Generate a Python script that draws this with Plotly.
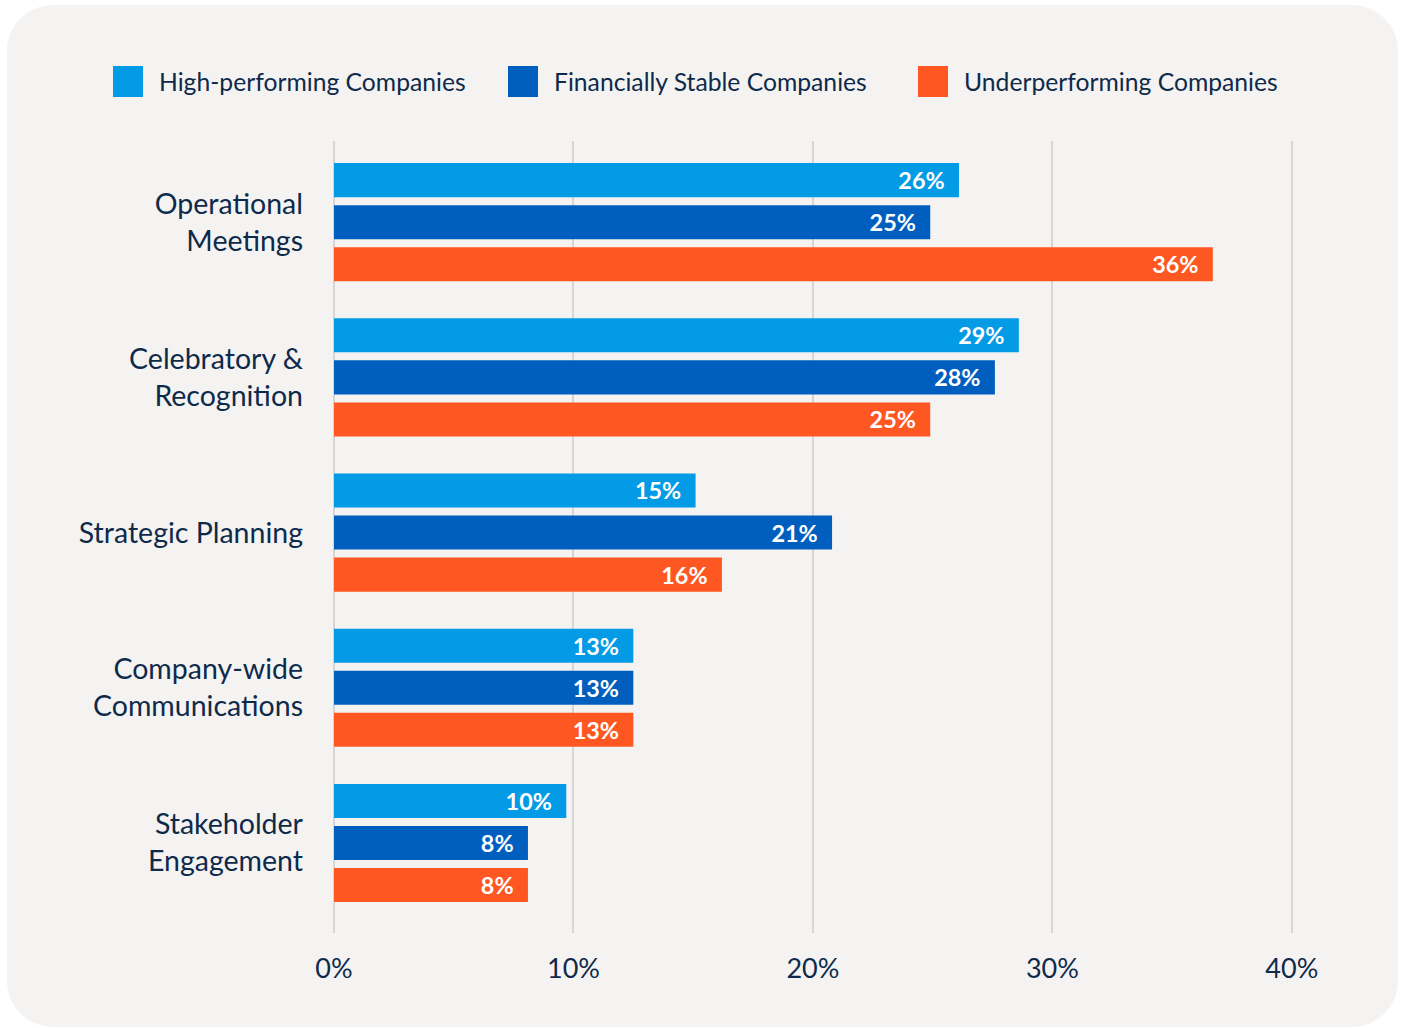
import plotly.graph_objects as go

# ---------------- data ----------------
categories = ["Operational<br>Meetings", "Celebratory &<br>Recognition", "Strategic Planning",
              "Company-wide<br>Communications", "Stakeholder<br>Engagement"]
series_names = ["High-performing Companies", "Financially Stable Companies", "Underperforming Companies"]
high_performing = [26.1, 28.6, 15.1, 12.5, 9.7]
financially_stable = [24.9, 27.6, 20.8, 12.5, 8.1]
underperforming = [36.7, 24.9, 16.2, 12.5, 8.1]
high_labels = ["26%", "29%", "15%", "13%", "10%"]
stable_labels = ["25%", "28%", "21%", "13%", "8%"]
under_labels = ["36%", "25%", "16%", "13%", "8%"]
x_ticks = [0, 10, 20, 30, 40]
x_tick_labels = ["0%", "10%", "20%", "30%", "40%"]

# ---------------- style ----------------
colors = ["#039be5", "#005fbe", "#ff5722"]
text_color = "#0e2a4b"
bg_color = "#f5f3f1"
grid_color = "#d6d6d6"
FONT = "Lato"

W, H = 1405, 1028
X_MAX = 40.3
ML, MT, MB = 334, 141, 95
MR = W - round(ML + (1292 - ML) / 40 * X_MAX)
PW, PH = W - ML - MR, H - MT - MB


def px_x(p):
    return (p - ML) / PW


def px_y(p):
    return (H - MB - p) / PH


fig = go.Figure()
values = [high_performing, financially_stable, underperforming]
labels = [high_labels, stable_labels, under_labels]
for name, vals, labs, col in zip(series_names, values, labels, colors):
    fig.add_trace(go.Bar(
        y=categories, x=vals, name=name, orientation="h",
        marker=dict(color=col, line=dict(width=0)),
        text=[l + "\u00a0\u00a0" for l in labs],
        textposition="inside", insidetextanchor="end",
        textfont=dict(family=FONT, size=27.5, color="white", weight="bold"),
        showlegend=False, hoverinfo="skip",
    ))

# rounded background card
x0, x1, y0, y1, r = 7, 1398, 5, 1027, 46
k = 0.45
path = (f"M {px_x(x0 + r)},{px_y(y0)} L {px_x(x1 - r)},{px_y(y0)} "
        f"C {px_x(x1 - r * k)},{px_y(y0)} {px_x(x1)},{px_y(y0 + r * k)} {px_x(x1)},{px_y(y0 + r)} "
        f"L {px_x(x1)},{px_y(y1 - r)} "
        f"C {px_x(x1)},{px_y(y1 - r * k)} {px_x(x1 - r * k)},{px_y(y1)} {px_x(x1 - r)},{px_y(y1)} "
        f"L {px_x(x0 + r)},{px_y(y1)} "
        f"C {px_x(x0 + r * k)},{px_y(y1)} {px_x(x0)},{px_y(y1 - r * k)} {px_x(x0)},{px_y(y1 - r)} "
        f"L {px_x(x0)},{px_y(y0 + r)} "
        f"C {px_x(x0)},{px_y(y0 + r * k)} {px_x(x0 + r * k)},{px_y(y0)} {px_x(x0 + r)},{px_y(y0)} Z")
shapes = [dict(type="path", path=path, xref="paper", yref="paper",
               fillcolor=bg_color, line=dict(width=0), layer="below")]

# custom legend
legend_x = [113, 508, 918]
annotations = []
for lx, name, col in zip(legend_x, series_names, colors):
    shapes.append(dict(type="rect", xref="paper", yref="paper",
                       x0=px_x(lx), x1=px_x(lx + 30), y0=px_y(97), y1=px_y(66),
                       fillcolor=col, line=dict(width=0)))
    annotations.append(dict(x=px_x(lx + 44), y=px_y(81.5), xref="paper", yref="paper",
                            text=name, showarrow=False, xanchor="left", yanchor="middle",
                            font=dict(family=FONT, size=24.7, color=text_color)))

fig.update_layout(
    width=W, height=H,
    margin=dict(l=ML, r=MR, t=MT, b=MB, pad=0),
    paper_bgcolor="white", plot_bgcolor="rgba(0,0,0,0)",
    barmode="group", bargap=0.187, bargroupgap=0.19,
    shapes=shapes, annotations=annotations,
    font=dict(family=FONT, color=text_color),
    xaxis=dict(range=[0, X_MAX], tickmode="array", tickvals=x_ticks, ticktext=x_tick_labels,
               showgrid=True, gridcolor=grid_color, gridwidth=2,
               zeroline=True, zerolinecolor=grid_color, zerolinewidth=2,
               showline=False, ticks="", ticklabelstandoff=17,
               tickfont=dict(family=FONT, size=27, color=text_color), fixedrange=True),
    yaxis=dict(type="category", categoryorder="array", categoryarray=categories,
               range=[4.58, -0.523], showgrid=False, zeroline=False, showline=False,
               ticks="", ticklabelstandoff=30,
               tickfont=dict(family=FONT, size=28.5, color=text_color), fixedrange=True),
)

fig.write_html("out.html", config={"displayModeBar": False},
               post_script="document.body.style.margin='0px';document.body.style.overflow='hidden';")
